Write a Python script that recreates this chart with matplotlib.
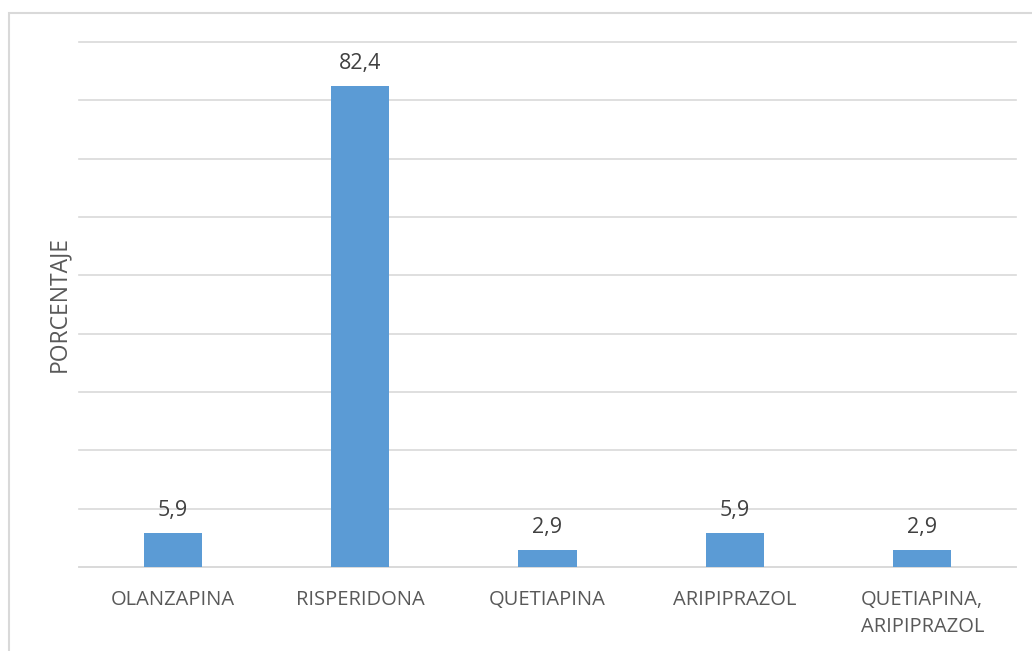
import matplotlib
matplotlib.use("Agg")
import matplotlib.pyplot as plt
from matplotlib.patches import Rectangle
import numpy as np

# Porcentaje de pacientes por antipsicótico
categorias = ["OLANZAPINA", "RISPERIDONA", "QUETIAPINA", "ARIPIPRAZOL", "QUETIAPINA,\nARIPIPRAZOL"]
porcentajes = [5.9, 82.4, 2.9, 5.9, 2.9]

plt.rcParams["font.family"] = ["Open Sans", "DejaVu Sans"]

fig = plt.figure(figsize=(10.32, 6.51), dpi=100)
ax = fig.add_axes([79 / 1032, 1 - 567 / 651, (1016 - 79) / 1032, (567 - 42) / 651])

# Borde gris claro alrededor del gráfico
fig.patches.append(Rectangle((8.5 / 1032, -0.1), 1.2, 1.1 - 12.5 / 651,
                             transform=fig.transFigure, fill=False,
                             edgecolor="#d9d9d9", linewidth=1.5))

x = np.arange(len(categorias))
bars = ax.bar(x, porcentajes, width=0.31, color="#5b9bd5", zorder=3)

for b, v in zip(bars, porcentajes):
    ax.annotate(f"{v:.1f}".replace(".", ","),
                xy=(b.get_x() + b.get_width() / 2, v),
                xytext=(0, 12.2), textcoords="offset points",
                ha="center", va="baseline", fontsize=15.5, color="#404040")

ax.set_xlim(-0.5, len(categorias) - 0.5)
ax.set_ylim(0, 90)
ax.set_yticks(np.arange(0, 91, 10))
ax.set_yticklabels([])
ax.tick_params(axis="y", length=0)
ax.grid(True, axis="y", color="#d9d9d9", linewidth=1.2, zorder=0)
for gl in ax.get_ygridlines():
    gl.set_clip_on(False)

ax.set_xticks(x)
ax.set_xticklabels(categorias, fontsize=14.5, color="#595959", linespacing=1.45, va="top")
ax.tick_params(axis="x", length=0, pad=16.5)

for s in ["top", "right", "left"]:
    ax.spines[s].set_visible(False)
ax.spines["bottom"].set_color("#d9d9d9")
ax.spines["bottom"].set_linewidth(1.2)

fig.text(59 / 1032, 1 - 304 / 651, "PORCENTAJE", rotation=90, ha="center", va="center",
         fontsize=16.5, color="#595959")

fig.savefig("out.png", dpi=100)
